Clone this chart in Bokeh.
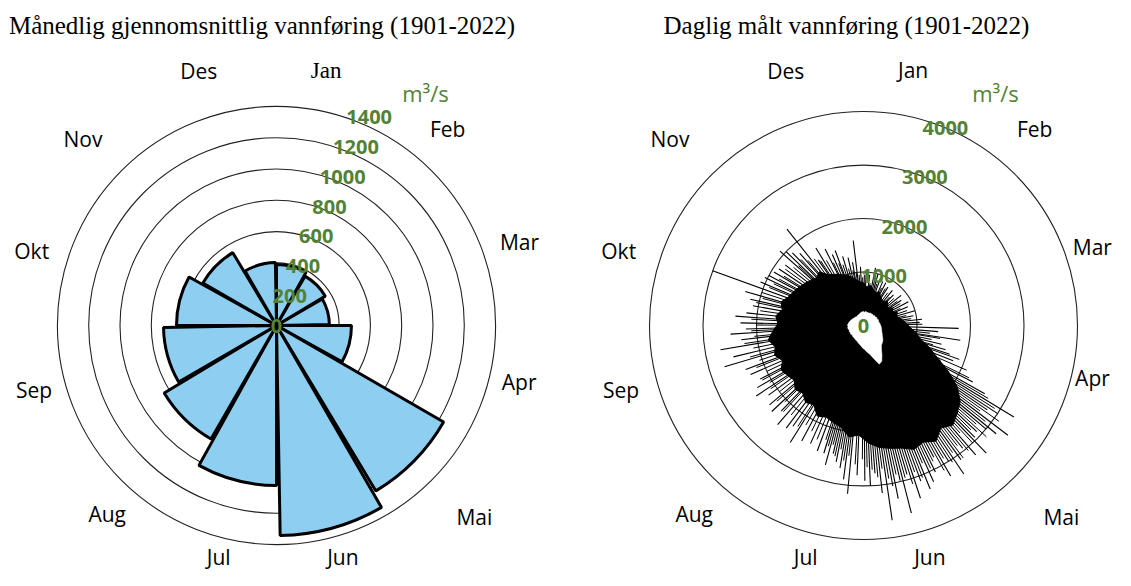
import numpy as np
from bokeh.plotting import figure
from bokeh.layouts import row
from bokeh.models import Range1d
from bokeh.core.properties import value
from bokeh.embed import file_html
from bokeh.resources import INLINE

# ---------------- data ----------------
months = ["Jan", "Feb", "Mar", "Apr", "Mai", "Jun", "Jul", "Aug", "Sep", "Okt", "Nov", "Des"]
monthly_mean = [390, 364, 338, 479, 1233, 1342, 1022, 837, 722, 639, 543, 402]   # m3/s
left_ticks = [200, 400, 600, 800, 1000, 1200, 1400]
right_ticks = [1000, 2000, 3000, 4000]

# daily flow (1901-2022): envelope of the dense mass, read every 5th day of year
core_day = list(range(0, 365, 5))
core_max = [800, 720, 760, 700, 660, 690, 640, 600, 580, 640, 600, 560, 640, 600, 680, 640,
            700, 760, 820, 900, 1000, 1100, 1300, 1500, 1800, 2100, 2300, 2400, 2500, 2400,
            2550, 2450, 2500, 2400, 2350, 2300, 2200, 2050, 2100, 1950, 1900, 1850, 1900,
            1750, 1800, 1700, 1750, 1650, 1700, 1750, 1650, 1750, 1700, 1800, 1700, 1600,
            1650, 1550, 1600, 1500, 1450, 1400, 1350, 1300, 1250, 1300, 1150, 1100, 1050,
            1000, 950, 880, 820]
core_min = [260, 250, 270, 250, 260, 250, 270, 260, 270, 260, 280, 270, 290, 280, 300, 290,
            300, 310, 320, 330, 340, 350, 360, 380, 400, 430, 460, 480, 500, 560, 650, 750,
            780, 650, 550, 500, 450, 420, 380, 360, 340, 320, 310, 300, 290, 290, 280, 280,
            290, 280, 290, 280, 290, 300, 290, 300, 290, 280, 270, 260, 250, 240, 230, 220,
            220, 210, 210, 220, 220, 230, 240, 250, 260]
# individual daily peaks standing out of the mass
spike_day = [3, 7, 12, 16, 20, 24, 28, 33, 40, 45, 52, 57, 63, 68, 75, 80, 85, 88,
             93, 96, 100, 103, 105, 108, 110, 113, 116, 119, 121, 123, 125, 126, 129, 131,
             132, 135, 137, 138, 141, 143, 146, 148, 150, 152, 154, 156, 158, 160, 162, 164,
             166, 168, 169, 171, 172, 174, 176, 178, 180, 182, 185, 188, 190, 192, 194, 196,
             198, 200, 203, 207, 211, 215, 218, 220, 224, 227, 230, 233, 237, 240, 243, 246,
             250, 253, 257, 260, 264, 267, 270, 272, 275, 278, 280, 284, 287, 290, 294, 297,
             300, 302, 305, 308, 312, 316, 318, 320, 323, 326, 330, 333, 338, 341, 344, 348,
             352, 355, 358, 362]
spike_q = [1000, 950, 1100, 1000, 950, 900, 900, 850, 850, 800, 900, 850, 950, 900, 1000, 950,
           1100, 1050, 1780, 1400, 1830, 1300, 1500, 1600, 1700, 1800, 1580, 2300, 2600, 3290,
           3000, 2800, 3390, 3200, 3000, 2900, 2950, 3310, 3200, 2950, 3100, 3350, 3000, 3250,
           2790, 3050, 3200, 3300, 3100, 3400, 2900, 3620, 2980, 3300, 3050, 3680, 3150, 2770,
           3000, 2900, 2800, 3160, 2900, 2700, 2600, 2460, 2700, 2500, 2500, 2420, 2450, 2580,
           2300, 2400, 2450, 2220, 2350, 2300, 2200, 2400, 2300, 2180, 2300, 2350, 2710, 2500,
           2710, 2300, 2490, 2200, 2300, 2400, 2200, 2100, 2170, 2300, 3000, 2090, 2050, 2000,
           1950, 1900, 1850, 2090, 2000, 1900, 1800, 2300, 1490, 1700, 1600, 1450, 1500, 1350,
           1300, 1200, 1600, 1100]
# smaller peaks forming the frayed edge of the mass
edge_day = [1, 9, 14, 18, 26, 31, 37, 43, 49, 55, 60, 66, 72, 78, 83, 90, 98, 101, 107, 111,
            115, 118, 122, 124, 127, 128, 130, 133, 134, 136, 139, 140, 142, 144, 145, 147,
            149, 151, 153, 155, 157, 159, 161, 163, 165, 167, 170, 173, 175, 177, 179, 181,
            183, 186, 189, 191, 193, 195, 197, 199, 201, 205, 209, 213, 216, 222, 226, 229,
            232, 235, 239, 242, 245, 248, 252, 255, 258, 262, 265, 268, 271, 274, 277, 282,
            286, 289, 292, 296, 299, 303, 306, 310, 314, 317, 321, 324, 328, 331, 335, 339,
            343, 346, 350, 354, 357, 360, 364]
edge_q = [950, 800, 900, 820, 780, 800, 760, 720, 760, 780, 800, 760, 860, 820, 900, 1100,
          1250, 1450, 1350, 1900, 2100, 2200, 2700, 2900, 3100, 2700, 2900, 2800, 3100, 2800,
          3000, 2700, 3050, 2850, 3100, 2900, 3050, 2900, 3100, 2850, 2950, 2800, 3050, 2900,
          3100, 2950, 2850, 2900, 2700, 2850, 2700, 2650, 2500, 2600, 2450, 2550, 2350, 2500,
          2300, 2350, 2250, 2300, 2200, 2150, 2250, 2150, 2200, 2050, 2150, 2000, 2100, 2050,
          2150, 2000, 2150, 2050, 2200, 2100, 2250, 2050, 2100, 2000, 2100, 1950, 2050, 1950,
          2000, 1900, 1850, 1800, 1750, 1800, 1700, 1650, 1700, 1600, 1550, 1450, 1400, 1300,
          1250, 1200, 1100, 1050, 1000, 950, 900]

# ---------------- layout constants ----------------
W_L, W_R, H = 574, 541, 570
KL, KR = 0.1565, 0.0535          # px per m3/s
CXL, CXR, CY = 276, 289, 325     # centre in figure px (from left / from top)
LABEL_ANG = [11, 41, 71, 103, 134, 164, 194, 222, 255, 287, 314, 343]
LABEL_RPX_L = [260, 261, 257, 249, 275, 241, 239, 253, 251, 256, 269, 266]
LABEL_RPX_R = [260, 261, 242, 235, 275, 241, 239, 253, 251, 256, 269, 266]
GREEN = "#548235"
BLUE = "#8ECEF1"
SANS = value("Open Sans")
SERIF = value("Liberation Serif")


def make_fig(w, k, cx):
    u = 1.0 / k
    p = figure(width=w, height=H, output_backend="svg", toolbar_location=None,
               x_range=Range1d(-cx * u, (w - cx) * u), y_range=Range1d(-(H - CY) * u, CY * u),
               x_axis_location=None, y_axis_location=None, min_border=0,
               outline_line_color=None, background_fill_color="white",
               border_fill_color="white")
    p.grid.visible = False
    return p


def pol(r, deg):
    th = np.radians(np.asarray(deg, dtype=float))
    r = np.asarray(r, dtype=float)
    return r * np.sin(th), r * np.cos(th)


def month_labels(p, k, rpx, serif_jan=False):
    lx, ly = pol(np.array(rpx) / k, LABEL_ANG)
    idx = [i for i in range(12) if not (serif_jan and i == 0)]
    p.text(x=[lx[i] for i in idx], y=[ly[i] for i in idx], text=[months[i] for i in idx],
           text_font=SANS, text_font_size="21px", text_color="black",
           text_align="center", text_baseline="middle")
    if serif_jan:
        p.text(x=[lx[0]], y=[ly[0]], text=[months[0]], text_font=SERIF,
               text_font_size="23px", text_color="black",
               text_align="center", text_baseline="middle")


# ---------------- left: monthly mean ----------------
pl = make_fig(W_L, KL, CXL)
n = len(left_ticks)
pl.circle(x=[0] * n, y=[0] * n, radius=left_ticks, fill_color=None,
          line_color="#222222", line_width=1.1)
start_deg = np.arange(12) * 30.0
end_deg = start_deg + 29.0
pl.wedge(x=0, y=0, radius=monthly_mean,
         start_angle=np.radians(90 - end_deg), end_angle=np.radians(90 - start_deg),
         direction="anticlock", fill_color=BLUE, line_color="black", line_width=3)
tx, ty = pol(np.array(left_ticks) * 1.04, [24] * n)
pl.text(x=list(tx) + [0], y=list(ty) + [0], text=[str(t) for t in left_ticks] + ["0"],
        text_font=SANS, text_font_style="bold", text_font_size="20px", text_color=GREEN,
        text_align="center", text_baseline="middle")
pl.text(x=[149 / KL], y=[233 / KL], text=["m³/s"], text_font=SANS, text_font_size="22px",
        text_color=GREEN, text_align="center", text_baseline="middle")
month_labels(pl, KL, LABEL_RPX_L, serif_jan=True)
pl.text(x=[-14.5 / KL], y=[300 / KL], text=["Månedlig gjennomsnittlig vannføring (1901-2022)"],
        text_font=SERIF, text_font_size="25px", text_color="black",
        text_align="center", text_baseline="middle")

# ---------------- right: daily values ----------------
pr = make_fig(W_R, KR, CXR)
m = len(right_ticks)
pr.circle(x=[0] * m, y=[0] * m, radius=right_ticks, fill_color=None,
          line_color="#222222", line_width=1.1)
ang = np.array(core_day) / 365.0 * 360.0
cx_, cy_ = pol(core_max, ang)
pr.patch(x=cx_, y=cy_, fill_color="black", line_color="black", line_width=1)
ex, ey = pol(edge_q, np.array(edge_day) / 365.0 * 360.0)
pr.segment(x0=[0] * len(ex), y0=[0] * len(ex), x1=ex, y1=ey, line_color="black",
           line_width=1.0)
sx, sy = pol(spike_q, np.array(spike_day) / 365.0 * 360.0)
pr.segment(x0=[0] * len(sx), y0=[0] * len(sx), x1=sx, y1=sy, line_color="black",
           line_width=1.1)
hx, hy = pol(core_min, ang)
pr.patch(x=hx, y=hy, fill_color="white", line_color="white", line_width=0.5)
rx, ry = pol(right_ticks, [22.5] * m)
pr.text(x=list(rx) + [0], y=list(ry) + [0], text=[str(t) for t in right_ticks] + ["0"],
        text_font=SANS, text_font_style="bold", text_font_size="20px", text_color=GREEN,
        text_align="center", text_baseline="middle")
pr.text(x=[132 / KR], y=[233 / KR], text=["m³/s"], text_font=SANS, text_font_size="22px",
        text_color=GREEN, text_align="center", text_baseline="middle")
month_labels(pr, KR, LABEL_RPX_R)
pr.text(x=[-17 / KR], y=[300 / KR], text=["Daglig målt vannføring (1901-2022)"],
        text_font=SERIF, text_font_size="25px", text_color="black",
        text_align="center", text_baseline="middle")

layout = row(pl, pr)
open("out.html", "w").write(file_html(layout, INLINE))
